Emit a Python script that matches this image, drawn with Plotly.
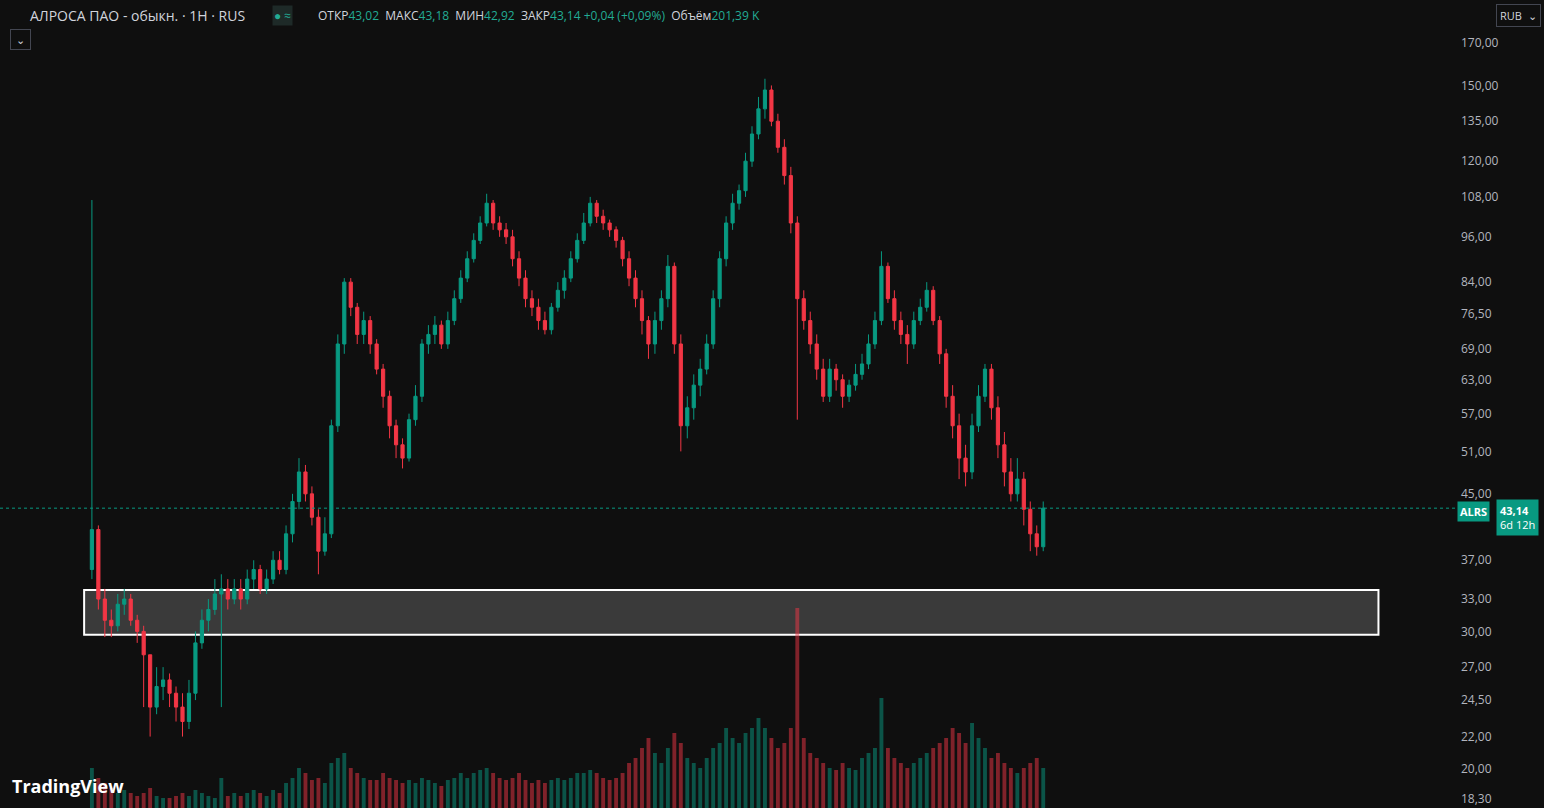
import plotly.graph_objects as go

# hourly candles (open of each bar = previous close)
first_open = 36
close = [40.5, 33, 31, 30.5, 32.5, 33, 31, 30, 28, 24, 25.5, 26, 25, 24, 23, 25,
         29, 31, 32, 33.5, 34, 33, 34, 33, 35, 36, 34, 35, 37, 36,
         40, 44, 48, 45, 42, 38, 40,
         55, 70, 84, 78, 72, 75, 70,
         65, 60, 55, 52, 50, 56, 60,
         70, 72, 74, 70, 75, 80, 85, 90, 95, 100, 106,
         100, 98, 96, 90, 85, 80, 78, 75, 73,
         78, 82, 85, 90, 95, 100, 106,
         102, 100, 98, 95, 90, 85, 80, 75, 70,
         75, 80, 88, 70, 55,
         58, 62, 65, 70, 80, 90, 100, 106,
         110, 120, 130, 140, 148,
         135, 125, 115, 100, 80,
         75, 70, 65, 60, 65, 63, 60, 62, 64, 66, 70, 75, 88,
         80, 75, 72, 70, 75, 78, 82,
         75, 68, 60, 55, 50, 48, 55, 60, 65,
         58, 52, 48, 45, 47, 43, 40, 38.5, 43.14]
high = [107, 41, 34, 32, 33.5, 34, 33.5, 31.5, 30.5, 28, 27, 27, 26.5, 25.5, 25, 26,
        30, 32, 33, 35, 35.5, 35, 35, 35, 36, 37, 36.5, 36, 38, 38,
        41, 45, 50, 49, 46, 43, 42,
        56, 72, 85, 85, 79, 77, 76,
        71, 66, 61, 56, 53, 57, 62,
        71, 74, 76, 75, 77, 82, 87, 92, 97, 102, 109,
        107, 102, 100, 98, 92, 87, 82, 80, 77,
        79, 84, 87, 92, 97, 103, 108,
        107, 104, 101, 99, 96, 92, 87, 82, 76,
        77, 82, 91, 89, 72,
        60, 64, 67, 72, 82, 92, 102, 109,
        112, 123, 133, 145, 153,
        150, 138, 128, 118, 102,
        82, 77, 72, 67, 67, 66, 64, 63, 66, 68, 72, 77, 92,
        89, 82, 77, 74, 77, 80, 84,
        83, 76, 69, 62, 57, 52, 57, 62, 66,
        66, 60, 54, 50, 50, 48, 44, 41, 44]
low = [35, 32, 29.5, 29.5, 30, 31.5, 30.5, 29, 24, 22, 23.5, 24.5, 24, 23, 22, 22.5,
       24.5, 28.5, 30, 31.5, 24, 32, 32.5, 32, 32.5, 34, 33.5, 33.5, 34.5, 35.5,
       35.5, 39, 43, 44, 41, 35.5, 37.5,
       39.5, 54, 68, 76, 70, 70, 68,
       64, 58, 53, 50, 48.5, 49.5, 55,
       59, 68, 70, 69, 69, 74, 79, 84, 89, 94, 99,
       98, 96, 94, 88, 83, 78, 76, 73, 72,
       72, 77, 80, 84, 89, 94, 99,
       100, 98, 96, 93, 88, 83, 78, 72, 67,
       68, 73, 78, 68, 51,
       53, 56, 60, 64, 69, 78, 88, 98,
       104, 108, 118, 128, 136,
       133, 123, 112, 97, 56,
       73, 68, 63, 59, 59, 61, 58, 59, 61, 63, 65, 69, 74,
       79, 73, 70, 66, 69, 74, 77,
       74, 66, 58, 53, 47, 46, 47, 54, 59,
       56, 50, 46, 44, 44, 41, 38, 37.5, 38]
volume = [40, 30, 25, 20, 15, 18, 15, 12, 15, 20, 12, 10, 10, 12, 15, 12,
          18, 15, 12, 10, 30, 12, 15, 12, 15, 18, 15, 12, 18, 15,
          25, 30, 40, 35, 28, 30, 25,
          45, 50, 55, 40, 35, 30, 28,
          28, 35, 30, 28, 25, 28, 25,
          30, 28, 25, 22, 28, 30, 35, 30, 35, 38, 40,
          35, 30, 28, 30, 35, 28, 25, 28, 25,
          28, 30, 28, 30, 35, 35, 38,
          35, 30, 28, 30, 35, 45, 50, 60, 70,
          55, 45, 60, 75, 65,
          50, 45, 40, 50, 60, 65, 80, 70,
          65, 75, 80, 90, 80,
          70, 60, 65, 80, 200,
          70, 55, 50, 45, 40, 38, 45, 40, 38, 50, 55, 60, 110,
          60, 50, 45, 40, 45, 50, 55,
          60, 65, 70, 80, 75, 65, 85, 70, 60,
          50, 55, 45, 40, 35, 40, 45, 50, 40]
price_ticks = [170, 150, 135, 120, 108, 96, 84, 76.5, 69, 63, 57, 51, 45, 37, 33, 30, 27, 24.5, 22, 20, 18.3]

opens = [first_open] + close[:-1]
idx = list(range(len(close)))
vol_colors = ["rgba(8,153,129,0.5)" if c >= o else "rgba(242,54,69,0.5)" for o, c in zip(opens, close)]

fig = go.Figure()
fig.add_trace(go.Bar(x=idx, y=volume, marker_color=vol_colors, marker_line_width=0,
                     yaxis="y2", showlegend=False, width=0.6))
fig.add_trace(go.Candlestick(x=idx, open=opens, high=high, low=low, close=close,
                             increasing=dict(line=dict(color="#089981", width=1), fillcolor="#089981"),
                             decreasing=dict(line=dict(color="#f23645", width=1), fillcolor="#f23645"),
                             whiskerwidth=0, showlegend=False))

# support zone
fig.add_shape(type="rect", x0=-1.2, x1=198.8, y0=29.7, y1=33.9, xref="x", yref="y",
              fillcolor="#3a3a3a", line=dict(color="white", width=2), layer="below")
fig.add_shape(type="line", x0=0, x1=1, xref="paper", y0=43.14, y1=43.14, yref="y",
              line=dict(color="#089981", width=1, dash="dot"))

W, H = 1460, 808
def ann(px, py, text, color="#d1d4dc", size=13, **kw):
    fig.add_annotation(x=px / W, y=1 - py / H, xref="paper", yref="paper", text=text,
                       showarrow=False, xanchor="left", yanchor="middle",
                       font=dict(color=color, size=size, family="Open Sans"), **kw)

g = "#22ab94"
ann(28, 15, "АЛРОСА ПАО - обыкн. · 1H · RUS", size=14)
ann(316, 15, "ОТКР<span style='color:%s'>43,02</span>  МАКС<span style='color:%s'>43,18</span>  "
    "МИН<span style='color:%s'>42,92</span>  ЗАКР<span style='color:%s'>43,14 +0,04 (+0,09%%)</span>  "
    "Объём<span style='color:%s'>201,39 K</span>" % (g, g, g, g, g), size=12)
ann(272, 15, "<b>●</b> ≈", color="#22ab94", size=12, bgcolor="#1e2a28")
ann(10, 39, " ⌄ ", size=11, bordercolor="#434651", borderwidth=1, borderpad=2)
ann(10, 786, "<b>TradingView</b>", color="white", size=18)
fig.add_annotation(x=1457 / W, y=1 - 511 / H, xref="paper", yref="paper", text="<b>ALRS</b>",
                   showarrow=False, xanchor="left", font=dict(color="white", size=11),
                   bgcolor="#089981", borderpad=2)
fig.add_annotation(x=1.0 + 36 / W, y=1 - 517 / H, xref="paper", yref="paper",
                   text="<b>43,14</b><br>6d 12h", showarrow=False, xanchor="left",
                   font=dict(color="white", size=11), bgcolor="#089981", borderpad=3, align="left")
fig.add_annotation(x=1.0 + 36 / W, y=1 - 15 / H, xref="paper", yref="paper", text="RUB  ⌄",
                   showarrow=False, xanchor="left", yanchor="middle", font=dict(color="#d1d4dc", size=11),
                   bordercolor="#434651", borderwidth=1, borderpad=3)

fig.update_layout(
    width=1544, height=808, margin=dict(l=0, r=84, t=0, b=0),
    paper_bgcolor="#0f0f0f", plot_bgcolor="#0f0f0f", bargap=0.2,
    xaxis=dict(range=[-14.2, 211.4], showgrid=False, zeroline=False, showticklabels=False,
               rangeslider=dict(visible=False)),
    yaxis=dict(type="log", range=[1.251, 2.2855], side="right", showgrid=False, zeroline=False,
               tickvals=price_ticks, ticktext=[f"{v:.2f}".replace(".", ",") for v in price_ticks],
               tickfont=dict(color="#b2b5be", size=12, family="Open Sans"), ticks=""),
    yaxis2=dict(overlaying="y", range=[0, 200 * 4.04], visible=False),
)

fig.write_html("out.html", config={"displayModeBar": False},
               post_script="document.body.style.margin='0';document.body.style.background='#0f0f0f';")
